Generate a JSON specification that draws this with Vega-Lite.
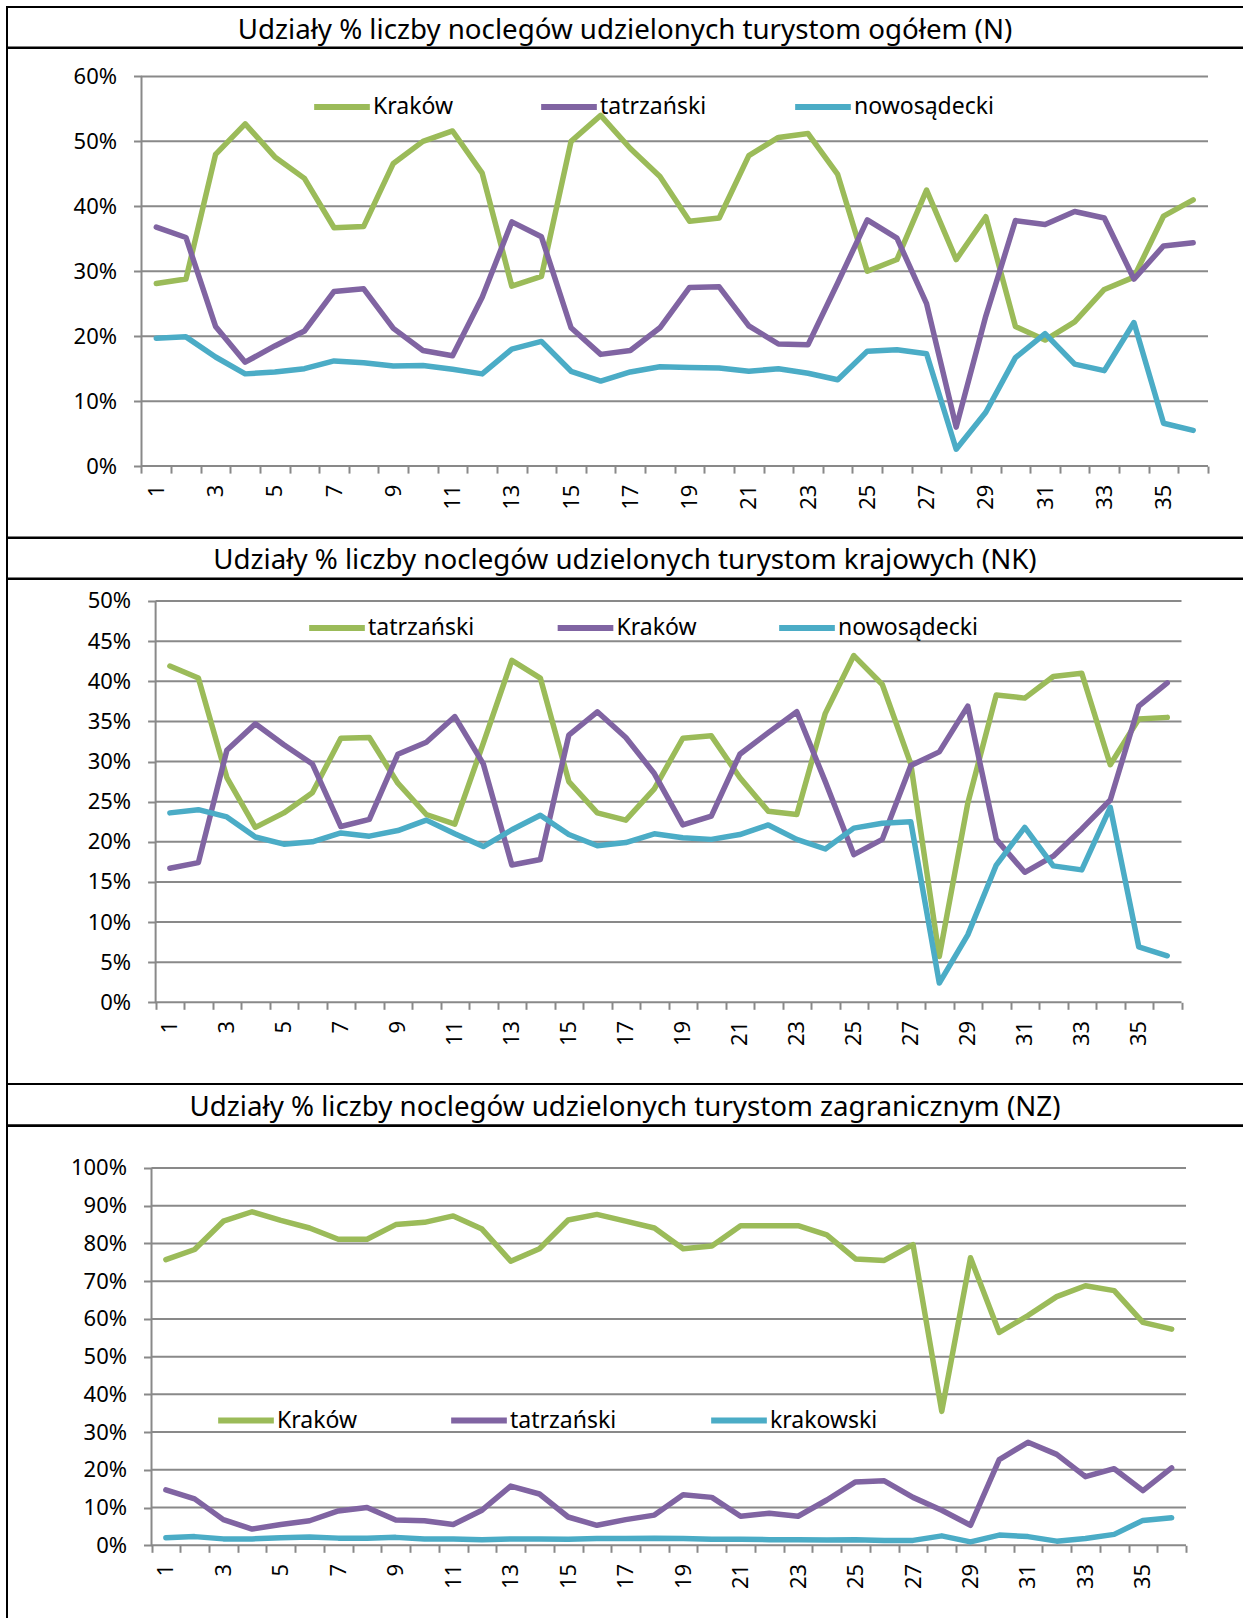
{
  "$schema": "https://vega.github.io/schema/vega-lite/v6.json",
  "padding": {"left": 6, "top": 6, "right": 0, "bottom": 0},
  "background": "white",
  "spacing": 0,
  "bounds": "flush",
  "datasets": {
    "N": [
      {"m":1,"Kraków":28.1,"tatrzański":36.8,"nowosądecki":19.7},
      {"m":2,"Kraków":28.8,"tatrzański":35.2,"nowosądecki":19.9},
      {"m":3,"Kraków":48.0,"tatrzański":21.5,"nowosądecki":16.8},
      {"m":4,"Kraków":52.7,"tatrzański":16.0,"nowosądecki":14.2},
      {"m":5,"Kraków":47.6,"tatrzański":18.5,"nowosądecki":14.5},
      {"m":6,"Kraków":44.3,"tatrzański":20.8,"nowosądecki":15.0},
      {"m":7,"Kraków":36.7,"tatrzański":26.9,"nowosądecki":16.2},
      {"m":8,"Kraków":36.9,"tatrzański":27.3,"nowosądecki":15.9},
      {"m":9,"Kraków":46.6,"tatrzański":21.2,"nowosądecki":15.4},
      {"m":10,"Kraków":50.0,"tatrzański":17.8,"nowosądecki":15.5},
      {"m":11,"Kraków":51.6,"tatrzański":17.0,"nowosądecki":14.9},
      {"m":12,"Kraków":45.1,"tatrzański":26.0,"nowosądecki":14.2},
      {"m":13,"Kraków":27.7,"tatrzański":37.6,"nowosądecki":18.0},
      {"m":14,"Kraków":29.2,"tatrzański":35.3,"nowosądecki":19.2},
      {"m":15,"Kraków":50.0,"tatrzański":21.3,"nowosądecki":14.6},
      {"m":16,"Kraków":54.0,"tatrzański":17.2,"nowosądecki":13.1},
      {"m":17,"Kraków":48.9,"tatrzański":17.8,"nowosądecki":14.5},
      {"m":18,"Kraków":44.6,"tatrzański":21.3,"nowosądecki":15.3},
      {"m":19,"Kraków":37.7,"tatrzański":27.5,"nowosądecki":15.2},
      {"m":20,"Kraków":38.2,"tatrzański":27.6,"nowosądecki":15.1},
      {"m":21,"Kraków":47.8,"tatrzański":21.6,"nowosądecki":14.6},
      {"m":22,"Kraków":50.6,"tatrzański":18.8,"nowosądecki":15.0},
      {"m":23,"Kraków":51.2,"tatrzański":18.7,"nowosądecki":14.3},
      {"m":24,"Kraków":44.9,"tatrzański":28.2,"nowosądecki":13.3},
      {"m":25,"Kraków":30.0,"tatrzański":37.9,"nowosądecki":17.7},
      {"m":26,"Kraków":31.8,"tatrzański":35.1,"nowosądecki":17.9},
      {"m":27,"Kraków":42.5,"tatrzański":25.0,"nowosądecki":17.3},
      {"m":28,"Kraków":31.8,"tatrzański":6.0,"nowosądecki":2.6},
      {"m":29,"Kraków":38.4,"tatrzański":23.1,"nowosądecki":8.3},
      {"m":30,"Kraków":21.5,"tatrzański":37.8,"nowosądecki":16.7},
      {"m":31,"Kraków":19.4,"tatrzański":37.2,"nowosądecki":20.4},
      {"m":32,"Kraków":22.2,"tatrzański":39.2,"nowosądecki":15.7},
      {"m":33,"Kraków":27.2,"tatrzański":38.2,"nowosądecki":14.7},
      {"m":34,"Kraków":29.1,"tatrzański":28.8,"nowosądecki":22.1},
      {"m":35,"Kraków":38.5,"tatrzański":33.9,"nowosądecki":6.6},
      {"m":36,"Kraków":41.0,"tatrzański":34.4,"nowosądecki":5.5}
    ],
    "NK": [
      {"m":1,"tatrzański":41.9,"Kraków":16.7,"nowosądecki":23.6},
      {"m":2,"tatrzański":40.4,"Kraków":17.4,"nowosądecki":24.0},
      {"m":3,"tatrzański":28.0,"Kraków":31.4,"nowosądecki":23.1},
      {"m":4,"tatrzański":21.8,"Kraków":34.7,"nowosądecki":20.6},
      {"m":5,"tatrzański":23.6,"Kraków":32.1,"nowosądecki":19.7},
      {"m":6,"tatrzański":26.1,"Kraków":29.7,"nowosądecki":20.0},
      {"m":7,"tatrzański":32.9,"Kraków":21.9,"nowosądecki":21.1},
      {"m":8,"tatrzański":33.0,"Kraków":22.8,"nowosądecki":20.7},
      {"m":9,"tatrzański":27.3,"Kraków":30.9,"nowosądecki":21.4},
      {"m":10,"tatrzański":23.4,"Kraków":32.4,"nowosądecki":22.7},
      {"m":11,"tatrzański":22.2,"Kraków":35.6,"nowosądecki":21.0},
      {"m":12,"tatrzański":32.3,"Kraków":29.7,"nowosądecki":19.4},
      {"m":13,"tatrzański":42.6,"Kraków":17.1,"nowosądecki":21.5},
      {"m":14,"tatrzański":40.4,"Kraków":17.8,"nowosądecki":23.3},
      {"m":15,"tatrzański":27.5,"Kraków":33.3,"nowosądecki":20.9},
      {"m":16,"tatrzański":23.6,"Kraków":36.2,"nowosądecki":19.5},
      {"m":17,"tatrzański":22.7,"Kraków":33.0,"nowosądecki":19.9},
      {"m":18,"tatrzański":26.6,"Kraków":28.5,"nowosądecki":21.0},
      {"m":19,"tatrzański":32.9,"Kraków":22.1,"nowosądecki":20.5},
      {"m":20,"tatrzański":33.2,"Kraków":23.2,"nowosądecki":20.3},
      {"m":21,"tatrzański":28.0,"Kraków":30.9,"nowosądecki":20.9},
      {"m":22,"tatrzański":23.8,"Kraków":33.6,"nowosądecki":22.1},
      {"m":23,"tatrzański":23.4,"Kraków":36.2,"nowosądecki":20.3},
      {"m":24,"tatrzański":36.0,"Kraków":27.5,"nowosądecki":19.1},
      {"m":25,"tatrzański":43.2,"Kraków":18.4,"nowosądecki":21.7},
      {"m":26,"tatrzański":39.6,"Kraków":20.3,"nowosądecki":22.3},
      {"m":27,"tatrzański":29.7,"Kraków":29.5,"nowosądecki":22.5},
      {"m":28,"tatrzański":5.7,"Kraków":31.2,"nowosądecki":2.4},
      {"m":29,"tatrzański":24.8,"Kraków":36.9,"nowosądecki":8.4},
      {"m":30,"tatrzański":38.3,"Kraków":20.3,"nowosądecki":17.1},
      {"m":31,"tatrzański":37.9,"Kraków":16.2,"nowosądecki":21.8},
      {"m":32,"tatrzański":40.6,"Kraków":18.2,"nowosądecki":17.0},
      {"m":33,"tatrzański":41.0,"Kraków":21.6,"nowosądecki":16.5},
      {"m":34,"tatrzański":29.6,"Kraków":25.2,"nowosądecki":24.3},
      {"m":35,"tatrzański":35.3,"Kraków":36.9,"nowosądecki":6.9},
      {"m":36,"tatrzański":35.5,"Kraków":39.8,"nowosądecki":5.8}
    ],
    "NZ": [
      {"m":1,"Kraków":75.7,"tatrzański":14.7,"krakowski":2.0},
      {"m":2,"Kraków":78.4,"tatrzański":12.3,"krakowski":2.3},
      {"m":3,"Kraków":85.9,"tatrzański":6.8,"krakowski":1.7},
      {"m":4,"Kraków":88.4,"tatrzański":4.3,"krakowski":1.7},
      {"m":5,"Kraków":86.1,"tatrzański":5.5,"krakowski":2.0},
      {"m":6,"Kraków":84.1,"tatrzański":6.5,"krakowski":2.2},
      {"m":7,"Kraków":81.1,"tatrzański":9.1,"krakowski":1.9},
      {"m":8,"Kraków":81.1,"tatrzański":10.0,"krakowski":1.9},
      {"m":9,"Kraków":85.0,"tatrzański":6.7,"krakowski":2.1},
      {"m":10,"Kraków":85.6,"tatrzański":6.5,"krakowski":1.7},
      {"m":11,"Kraków":87.3,"tatrzański":5.5,"krakowski":1.7},
      {"m":12,"Kraków":83.8,"tatrzański":9.3,"krakowski":1.5},
      {"m":13,"Kraków":75.3,"tatrzański":15.7,"krakowski":1.7},
      {"m":14,"Kraków":78.6,"tatrzański":13.6,"krakowski":1.7},
      {"m":15,"Kraków":86.2,"tatrzański":7.5,"krakowski":1.6},
      {"m":16,"Kraków":87.7,"tatrzański":5.3,"krakowski":1.8},
      {"m":17,"Kraków":85.9,"tatrzański":6.8,"krakowski":1.8},
      {"m":18,"Kraków":84.1,"tatrzański":8.0,"krakowski":1.9},
      {"m":19,"Kraków":78.6,"tatrzański":13.4,"krakowski":1.8},
      {"m":20,"Kraków":79.3,"tatrzański":12.7,"krakowski":1.6},
      {"m":21,"Kraków":84.7,"tatrzański":7.7,"krakowski":1.6},
      {"m":22,"Kraków":84.7,"tatrzański":8.5,"krakowski":1.5},
      {"m":23,"Kraków":84.7,"tatrzański":7.7,"krakowski":1.5},
      {"m":24,"Kraków":82.3,"tatrzański":12.0,"krakowski":1.4},
      {"m":25,"Kraków":75.9,"tatrzański":16.8,"krakowski":1.5},
      {"m":26,"Kraków":75.5,"tatrzański":17.1,"krakowski":1.3},
      {"m":27,"Kraków":79.7,"tatrzański":12.7,"krakowski":1.3},
      {"m":28,"Kraków":35.5,"tatrzański":9.3,"krakowski":2.5},
      {"m":29,"Kraków":76.2,"tatrzański":5.3,"krakowski":0.9},
      {"m":30,"Kraków":56.4,"tatrzański":22.7,"krakowski":2.7},
      {"m":31,"Kraków":60.9,"tatrzański":27.3,"krakowski":2.3},
      {"m":32,"Kraków":65.9,"tatrzański":24.1,"krakowski":1.1},
      {"m":33,"Kraków":68.8,"tatrzański":18.2,"krakowski":1.8},
      {"m":34,"Kraków":67.5,"tatrzański":20.3,"krakowski":2.9},
      {"m":35,"Kraków":59.1,"tatrzański":14.5,"krakowski":6.6},
      {"m":36,"Kraków":57.3,"tatrzański":20.5,"krakowski":7.3}
    ]
  },
  "vconcat": [
    {
      "width": 1238, "height": 40.4,
      "data": {"values": [{"t": "Udziały % liczby noclegów udzielonych turystom ogółem (N)"}]},
      "mark": {"type": "text", "fontSize": 27.7, "color": "black", "dx": -1, "dy": 4},
      "encoding": {
        "x": {"datum": 0, "type": "quantitative", "scale": {"domain": [-1, 1]}, "axis": null},
        "y": {"datum": 0, "type": "quantitative", "scale": {"domain": [-1, 1]}, "axis": null},
        "text": {"field": "t"}
      }
    },
    {
      "width": 1238, "height": 489.6,
      "layer": [
        {
          "data": {"values": [{"g":0},{"g":10},{"g":20},{"g":30},{"g":40},{"g":50},{"g":60}]},
          "mark": {"type": "rule", "color": "#898989", "strokeWidth": 2},
          "encoding": {
            "y": {"field": "g", "type": "quantitative", "scale": {"domain": [-11.008, 64.373], "nice": false, "zero": false}},
            "x": {"datum": 0.5, "type": "quantitative", "scale": {"domain": [-4.04, 37.749], "nice": false, "zero": false}},
            "x2": {"datum": 36.5}
          }
        },
        {
          "data": {"values": [{}]},
          "mark": {"type": "rule", "color": "#898989", "strokeWidth": 2},
          "encoding": {
            "x": {"datum": 0.5, "type": "quantitative"},
            "y": {"datum": 0, "type": "quantitative"},
            "y2": {"datum": 60}
          }
        },
        {
          "data": {"name": "N"},
          "transform": [{"fold": ["Kraków", "tatrzański", "nowosądecki"], "as": ["seria", "v"]}],
          "mark": {"type": "line", "strokeWidth": 5.5, "strokeJoin": "round", "strokeCap": "round"},
          "encoding": {
            "x": {"field": "m", "type": "quantitative",
              "scale": {"domain": [-4.04, 37.749], "nice": false, "zero": false},
              "axis": {"values": [0,1,2,3,4,5,6,7,8,9,10,11,12,13,14,15,16,17,18,19,20,21,22,23,24,25,26,27,28,29,30,31,32,33,34,35,36],
                "tickCount": 60, "format": "d", "labelExpr": "datum.value % 2 == 1 ? datum.label : ''", "title": null, "grid": false, "domain": false,
                "tickOffset": 14.81, "labelOffset": -14.81, "offset": -71.5}},
            "y": {"field": "v", "type": "quantitative",
              "scale": {"domain": [-11.008, 64.373], "nice": false, "zero": false},
              "axis": {"values": [0,10,20,30,40,50,60], "tickCount": 20, "labelExpr": "datum.value + '%'", "title": null, "grid": false, "domain": false, "offset": -134.5}},
            "color": {"field": "seria", "type": "nominal",
              "scale": {"domain": ["Kraków", "tatrzański", "nowosądecki"], "range": ["#9BBB59", "#8064A2", "#4BACC6"]},
              "legend": {"orient": "none", "legendX": 304, "legendY": 28, "columnPadding": 76}}
          }
        }
      ]
    },
    {
      "width": 1238, "height": 40.4,
      "data": {"values": [{"t": "Udziały % liczby noclegów udzielonych turystom krajowych (NK)"}]},
      "mark": {"type": "text", "fontSize": 27.7, "color": "black", "dx": -1, "dy": 3},
      "encoding": {
        "x": {"datum": 0, "type": "quantitative", "scale": {"domain": [-1, 1]}, "axis": null},
        "y": {"datum": 0, "type": "quantitative", "scale": {"domain": [-1, 1]}, "axis": null},
        "text": {"field": "t"}
      }
    },
    {
      "width": 1238, "height": 505,
      "layer": [
        {
          "data": {"values": [{"g":0},{"g":5},{"g":10},{"g":15},{"g":20},{"g":25},{"g":30},{"g":35},{"g":40},{"g":45},{"g":50}]},
          "mark": {"type": "rule", "color": "#898989", "strokeWidth": 2},
          "encoding": {
            "y": {"field": "g", "type": "quantitative", "scale": {"domain": [-10.179, 52.741], "nice": false, "zero": false}},
            "x": {"datum": 0.5, "type": "quantitative", "scale": {"domain": [-4.715, 38.728], "nice": false, "zero": false}},
            "x2": {"datum": 36.5}
          }
        },
        {
          "data": {"values": [{}]},
          "mark": {"type": "rule", "color": "#898989", "strokeWidth": 2},
          "encoding": {
            "x": {"datum": 0.5, "type": "quantitative"},
            "y": {"datum": 0, "type": "quantitative"},
            "y2": {"datum": 50}
          }
        },
        {
          "data": {"name": "NK"},
          "transform": [{"fold": ["tatrzański", "Kraków", "nowosądecki"], "as": ["seria", "v"]}],
          "mark": {"type": "line", "strokeWidth": 5.5, "strokeJoin": "round", "strokeCap": "round"},
          "encoding": {
            "x": {"field": "m", "type": "quantitative",
              "scale": {"domain": [-4.715, 38.728], "nice": false, "zero": false},
              "axis": {"values": [0,1,2,3,4,5,6,7,8,9,10,11,12,13,14,15,16,17,18,19,20,21,22,23,24,25,26,27,28,29,30,31,32,33,34,35,36],
                "tickCount": 60, "format": "d", "labelExpr": "datum.value % 2 == 1 ? datum.label : ''", "title": null, "grid": false, "domain": false,
                "tickOffset": 14.25, "labelOffset": -14.25, "offset": -81.7}},
            "y": {"field": "v", "type": "quantitative",
              "scale": {"domain": [-10.179, 52.741], "nice": false, "zero": false},
              "axis": {"values": [0,5,10,15,20,25,30,35,40,45,50], "tickCount": 20, "labelExpr": "datum.value + '%'", "title": null, "grid": false, "domain": false, "offset": -148.6}},
            "color": {"field": "seria", "type": "nominal",
              "scale": {"domain": ["tatrzański", "Kraków", "nowosądecki"], "range": ["#9BBB59", "#8064A2", "#4BACC6"]},
              "legend": {"orient": "none", "legendX": 299, "legendY": 18, "columnPadding": 70.5}}
          }
        }
      ]
    },
    {
      "width": 1238, "height": 41.3,
      "data": {"values": [{"t": "Udziały % liczby noclegów udzielonych turystom zagranicznym (NZ)"}]},
      "mark": {"type": "text", "fontSize": 27.7, "color": "black", "dx": -1, "dy": 3},
      "encoding": {
        "x": {"datum": 0, "type": "quantitative", "scale": {"domain": [-1, 1]}, "axis": null},
        "y": {"datum": 0, "type": "quantitative", "scale": {"domain": [-1, 1]}, "axis": null},
        "text": {"field": "t"}
      }
    },
    {
      "width": 1238, "height": 500,
      "layer": [
        {
          "data": {"values": [{"g":0},{"g":10},{"g":20},{"g":30},{"g":40},{"g":50},{"g":60},{"g":70},{"g":80},{"g":90},{"g":100}]},
          "mark": {"type": "rule", "color": "#898989", "strokeWidth": 2},
          "encoding": {
            "y": {"field": "g", "type": "quantitative", "scale": {"domain": [-21.39, 111.13], "nice": false, "zero": false}},
            "x": {"datum": 0.5, "type": "quantitative", "scale": {"domain": [-4.529, 38.553], "nice": false, "zero": false}},
            "x2": {"datum": 36.5}
          }
        },
        {
          "data": {"values": [{}]},
          "mark": {"type": "rule", "color": "#898989", "strokeWidth": 2},
          "encoding": {
            "x": {"datum": 0.5, "type": "quantitative"},
            "y": {"datum": 0, "type": "quantitative"},
            "y2": {"datum": 100}
          }
        },
        {
          "data": {"name": "NZ"},
          "transform": [{"fold": ["Kraków", "tatrzański", "krakowski"], "as": ["seria", "v"]}],
          "mark": {"type": "line", "strokeWidth": 5.5, "strokeJoin": "round", "strokeCap": "round"},
          "encoding": {
            "x": {"field": "m", "type": "quantitative",
              "scale": {"domain": [-4.529, 38.553], "nice": false, "zero": false},
              "axis": {"values": [0,1,2,3,4,5,6,7,8,9,10,11,12,13,14,15,16,17,18,19,20,21,22,23,24,25,26,27,28,29,30,31,32,33,34,35,36],
                "tickCount": 60, "format": "d", "labelExpr": "datum.value % 2 == 1 ? datum.label : ''", "title": null, "grid": false, "domain": false,
                "tickOffset": 14.37, "labelOffset": -14.37, "offset": -80.7}},
            "y": {"field": "v", "type": "quantitative",
              "scale": {"domain": [-21.39, 111.13], "nice": false, "zero": false},
              "axis": {"values": [0,10,20,30,40,50,60,70,80,90,100], "tickCount": 20, "labelExpr": "datum.value + '%'", "title": null, "grid": false, "domain": false, "offset": -144.5}},
            "color": {"field": "seria", "type": "nominal",
              "scale": {"domain": ["Kraków", "tatrzański", "krakowski"], "range": ["#9BBB59", "#8064A2", "#4BACC6"]},
              "legend": {"orient": "none", "legendX": 208, "legendY": 263.5, "columnPadding": 82}}
          }
        }
      ]
    }
  ],
  "resolve": {"scale": {"color": "independent"}, "legend": {"color": "independent"}},
  "config": {
    "font": "Noto Sans",
    "view": {"stroke": "black", "strokeWidth": 2},
    "axisX": {"domain": false, "grid": false, "tickSize": 7, "tickColor": "#898989", "tickWidth": 2,
      "labelAngle": -90, "labelAlign": "right", "labelBaseline": "middle", "labelPadding": 11,
      "labelFontSize": 22, "labelColor": "black", "labelFlush": false, "labelOverlap": false},
    "axisY": {"domain": false, "grid": false, "tickSize": 8, "tickColor": "#898989", "tickWidth": 2,
      "labelPadding": 17, "labelFontSize": 22, "labelColor": "black", "labelFlush": false, "labelOverlap": false},
    "legend": {"direction": "horizontal", "title": null, "symbolType": "stroke", "symbolSize": 3100, "symbolStrokeWidth": 6,
      "labelFontSize": 23, "labelColor": "black", "labelOffset": 0, "padding": 0, "labelLimit": 400}
  }
}
